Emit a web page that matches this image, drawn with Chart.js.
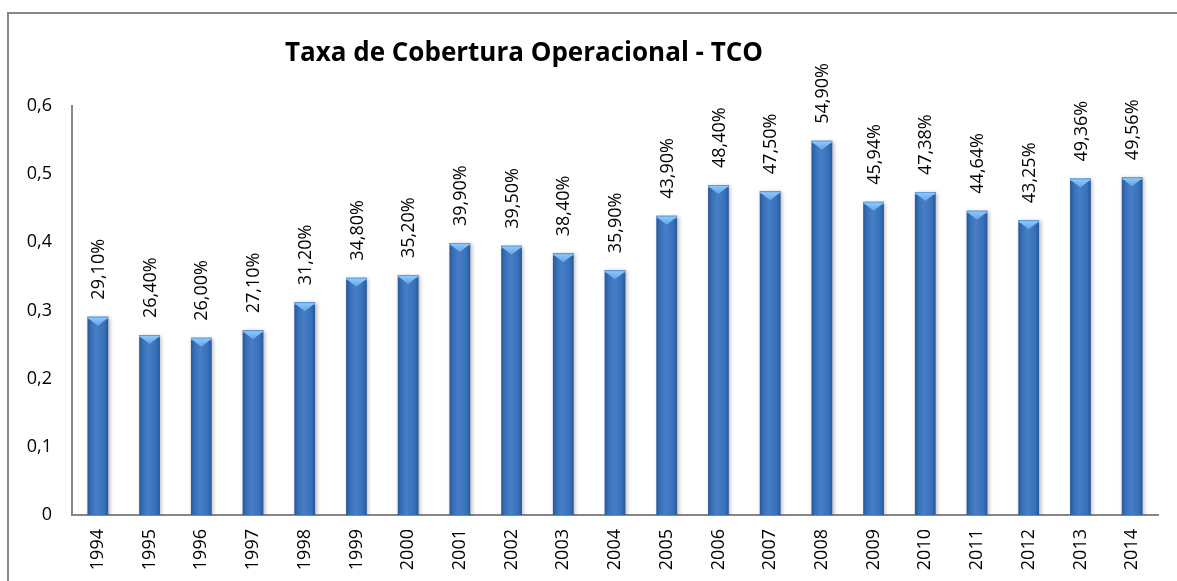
<!DOCTYPE html>
<html>
<head>
<meta charset="utf-8">
<script src="https://cdn.jsdelivr.net/npm/chart.js@4.4.0/dist/chart.umd.min.js"></script>
<style>
  html, body { margin: 0; padding: 0; background: #fff; overflow: hidden; }
  #wrap { position: relative; width: 1177px; height: 581px; }
  #frame { position: absolute; left: 7px; top: 12px; width: 1300px; height: 700px; border: 2px solid #878787; box-sizing: border-box; pointer-events: none; }
  canvas { position: absolute; left: 0; top: 0; }
</style>
</head>
<body>
<div id="wrap">
  <canvas id="c" width="1177" height="581"></canvas>
  <div id="frame"></div>
</div>
<script>
const chartTitle = 'Taxa de Cobertura Operacional - TCO';
const years = ['1994','1995','1996','1997','1998','1999','2000','2001','2002','2003','2004','2005','2006','2007','2008','2009','2010','2011','2012','2013','2014'];
const tcoValues = [0.291, 0.264, 0.260, 0.271, 0.312, 0.348, 0.352, 0.399, 0.395, 0.384, 0.359, 0.439, 0.484, 0.475, 0.549, 0.4594, 0.4738, 0.4464, 0.4325, 0.4936, 0.4956];
const yTicks = [0, 0.1, 0.2, 0.3, 0.4, 0.5, 0.6];

const FONT = '"Open Sans", "Liberation Sans", sans-serif';
const fmtPct = v => (v * 100).toFixed(2).replace('.', ',') + '%';
const fmtTick = v => (Math.round(v * 10) / 10).toString().replace('.', ',');

const shadowPlugin = {
  id: 'barShadow',
  beforeDatasetDraw(chart) {
    const ctx = chart.ctx;
    ctx.save();
    ctx.shadowColor = 'rgba(0,0,0,0.28)';
    ctx.shadowBlur = 4;
    ctx.shadowOffsetX = 1.5;
    ctx.shadowOffsetY = 1;
  },
  afterDatasetDraw(chart) {
    chart.ctx.restore();
  }
};

const bevelPlugin = {
  id: 'bevel',
  afterDatasetsDraw(chart) {
    const ctx = chart.ctx;
    const meta = chart.getDatasetMeta(0);
    meta.data.forEach((bar) => {
      const w = bar.width;
      const l = bar.x - w / 2, r = bar.x + w / 2;
      const top = bar.y, base = bar.base;
      ctx.save();
      const g = ctx.createLinearGradient(l, 0, r, 0);
      g.addColorStop(0, 'rgba(10,30,70,0.35)');
      g.addColorStop(0.18, 'rgba(10,30,70,0.08)');
      g.addColorStop(0.45, 'rgba(255,255,255,0.06)');
      g.addColorStop(0.8, 'rgba(10,30,70,0.05)');
      g.addColorStop(1, 'rgba(10,30,70,0.35)');
      ctx.fillStyle = g;
      ctx.fillRect(l, top, w, base - top);
      ctx.fillStyle = '#5f9fe6';
      ctx.fillRect(l, top, w, 2.5);
      ctx.beginPath();
      ctx.moveTo(l, top + 1);
      ctx.lineTo(r, top + 1);
      ctx.lineTo(bar.x, top + 9);
      ctx.closePath();
      const tg = ctx.createLinearGradient(0, top, 0, top + 9);
      tg.addColorStop(0, '#92cdfc');
      tg.addColorStop(1, '#62a3ea');
      ctx.fillStyle = tg;
      ctx.fill();
      ctx.restore();
    });
  }
};

const labelPlugin = {
  id: 'valueLabels',
  afterDatasetsDraw(chart) {
    const ctx = chart.ctx;
    const meta = chart.getDatasetMeta(0);
    const data = chart.data.datasets[0].data;
    ctx.save();
    ctx.font = '18px ' + FONT;
    ctx.fillStyle = '#000';
    ctx.textAlign = 'left';
    ctx.textBaseline = 'middle';
    meta.data.forEach((bar, i) => {
      ctx.save();
      ctx.translate(bar.x + 1, bar.y - 17);
      ctx.rotate(-Math.PI / 2);
      ctx.fillText(fmtPct(data[i]), 0, 0);
      ctx.restore();
    });
    ctx.restore();
  }
};

const titlePlugin = {
  id: 'customTitle',
  afterDraw(chart) {
    const ctx = chart.ctx;
    ctx.save();
    ctx.font = 'bold 26px ' + FONT;
    ctx.fillStyle = '#000';
    ctx.textAlign = 'center';
    ctx.textBaseline = 'alphabetic';
    ctx.fillText(chartTitle, 524, 61);
    ctx.restore();
  }
};

new Chart(document.getElementById('c'), {
  type: 'bar',
  data: {
    labels: years,
    datasets: [{
      data: tcoValues,
      backgroundColor: '#3b76c2',
      borderWidth: 0,
      barPercentage: 0.4,
      categoryPercentage: 1.0
    }]
  },
  options: {
    responsive: false,
    animation: false,
    devicePixelRatio: 1,
    layout: { padding: { left: 0, top: 106, right: 19, bottom: 0 } },
    plugins: {
      legend: { display: false },
      title: { display: false },
      tooltip: { enabled: false }
    },
    scales: {
      x: {
        grid: { display: false, drawTicks: false },
        border: { display: true, color: '#868686', width: 2 },
        ticks: {
          color: '#000',
          font: { family: FONT, size: 18 },
          minRotation: 90,
          maxRotation: 90,
          padding: 14,
          autoSkip: false
        },
        afterFit(scale) { scale.height = 66; }
      },
      y: {
        min: 0,
        max: 0.6,
        grid: { display: false, drawTicks: false },
        border: { display: true, color: '#868686', width: 2 },
        afterBuildTicks(scale) { scale.ticks = yTicks.map(v => ({ value: v })); },
        ticks: {
          color: '#000',
          font: { family: FONT, size: 18 },
          padding: 20,
          callback: v => fmtTick(v)
        },
        afterFit(scale) { scale.width = 72; }
      }
    }
  },
  plugins: [shadowPlugin, bevelPlugin, labelPlugin, titlePlugin]
});
</script>
</body>
</html>
